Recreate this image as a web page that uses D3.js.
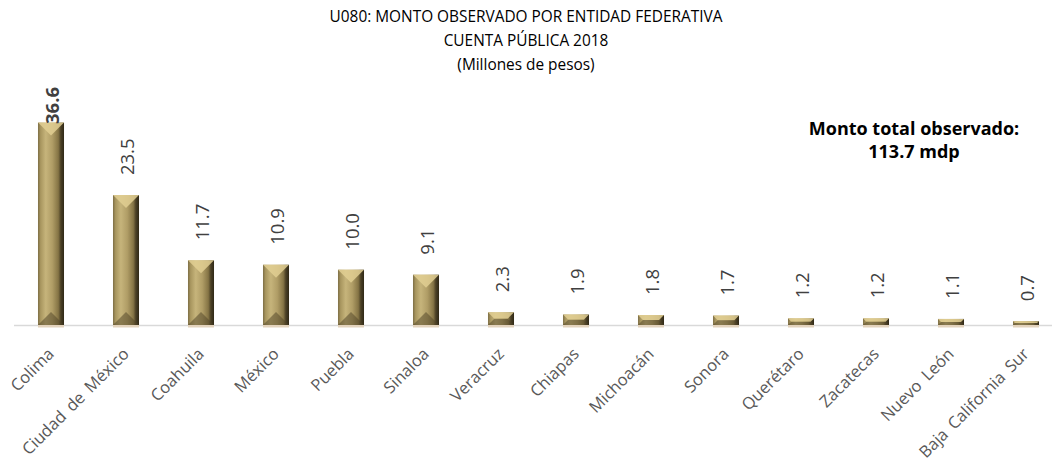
<!DOCTYPE html>
<html>
<head>
<meta charset="utf-8">
<script src="https://cdn.jsdelivr.net/npm/d3@7"></script>
<style>
  body { margin: 0; background: #fff; }
  svg { display: block; font-family: "Open Sans", sans-serif; }
</style>
</head>
<body>
<svg></svg>
<script>
const width = 1052;
const height = 466;

// Datos
const estados = ["Colima", "Ciudad de México", "Coahuila", "México", "Puebla", "Sinaloa",
    "Veracruz", "Chiapas", "Michoacán", "Sonora", "Querétaro", "Zacatecas",
    "Nuevo León", "Baja California Sur"];
const montos = [36.6, 23.5, 11.7, 10.9, 10.0, 9.1, 2.3, 1.9, 1.8, 1.7, 1.2, 1.2, 1.1, 0.7];
const titulo = ["U080: MONTO OBSERVADO POR ENTIDAD FEDERATIVA", "CUENTA PÚBLICA 2018", "(Millones de pesos)"];
const nota = ["Monto total observado:", "113.7 mdp"];

const data = estados.map((e, i) => ({ estado: e, monto: montos[i] }));
const maxMonto = d3.max(montos);

const svg = d3.select("svg")
    .attr("width", width)
    .attr("height", height);

const x = d3.scaleBand()
    .domain(estados)
    .range([13.5, 1063.5])
    .paddingInner(0.653)
    .paddingOuter(0.3265);

const y = d3.scaleLinear()
    .domain([0, 40])
    .range([325, 103.8]);

const plotTop = 87;

// gradiente de la cara de la barra
const defs = svg.append("defs");
const cara = defs.append("linearGradient").attr("id", "cara");
[[0, "#7d6e45"], [0.1, "#a8965f"], [0.3, "#c6b47b"], [0.55, "#b09d66"],
 [0.78, "#857445"], [0.88, "#4a3f25"], [1, "#2f2816"]].forEach(([o, c]) => {
    cara.append("stop").attr("offset", o).attr("stop-color", c);
});

// título
svg.append("g")
    .selectAll("text")
    .data(titulo)
    .join("text")
    .attr("x", 526)
    .attr("y", (d, i) => 22 + i * 24)
    .attr("text-anchor", "middle")
    .attr("font-size", 15.4)
    .attr("fill", "#000")
    .text(d => d);

// eje
const axis = svg.append("g")
    .attr("transform", `translate(0,${y(0)})`)
    .call(d3.axisBottom(x).tickSize(0).tickPadding(0));

axis.select(".domain")
    .attr("stroke", "#d9d9d9")
    .attr("stroke-width", 1.5);

axis.selectAll(".tick text")
    .attr("font-family", "Open Sans, sans-serif")
    .attr("font-size", 16.5)
    .attr("fill", "#595959")
    .attr("word-spacing", 3)
    .attr("text-anchor", "end")
    .attr("dy", 0)
    .attr("transform", "translate(4,30) rotate(-45)");

// barras
const barras = svg.append("g")
    .selectAll("g")
    .data(data)
    .join("g");

barras.append("rect")
    .attr("x", d => x(d.estado))
    .attr("y", y(0))
    .attr("width", x.bandwidth())
    .attr("height", 2.5)
    .attr("fill", "#e3d3bd");

barras.append("rect")
    .attr("x", d => x(d.estado))
    .attr("y", d => y(d.monto))
    .attr("width", x.bandwidth())
    .attr("height", d => y(0) - y(d.monto))
    .attr("fill", "url(#cara)");

function bisel(d, lado) {
    const x0 = x(d.estado), w = x.bandwidth();
    const y0 = y(d.monto), h = y(0) - y(d.monto);
    const b = Math.min(w / 2, h / 2);
    if (lado === "arriba")
        return [[x0, y0], [x0 + w, y0], [x0 + w - b, y0 + b], [x0 + b, y0 + b]];
    return [[x0, y0 + h], [x0 + w, y0 + h], [x0 + w - b, y0 + h - b], [x0 + b, y0 + h - b]];
}

barras.append("polygon")
    .attr("points", d => bisel(d, "arriba").join(" "))
    .attr("fill", "#e2cf93")
    .attr("opacity", 0.85);

barras.append("polygon")
    .attr("points", d => bisel(d, "abajo").join(" "))
    .attr("fill", "#4d4226")
    .attr("opacity", 0.5);

// etiquetas de valor
const etiquetas = barras.append("text")
    .attr("font-size", 18.5)
    .attr("fill", "#404040")
    .attr("font-weight", d => d.monto === maxMonto ? "bold" : "normal")
    .attr("text-anchor", "start")
    .attr("dy", "0.35em")
    .text(d => d3.format(".1f")(d.monto));

etiquetas.attr("transform", function(d) {
    const largo = this.getComputedTextLength();
    const yy = Math.max(y(d.monto) - 20, plotTop + largo);
    return `translate(${x(d.estado) + x.bandwidth() / 2 + 1.5},${yy}) rotate(-90)`;
});

// nota
svg.append("g")
    .selectAll("text")
    .data(nota)
    .join("text")
    .attr("x", 914)
    .attr("y", (d, i) => 135 + i * 23)
    .attr("text-anchor", "middle")
    .attr("font-size", 18)
    .attr("font-weight", "bold")
    .attr("fill", "#000")
    .text(d => d);
</script>
</body>
</html>
